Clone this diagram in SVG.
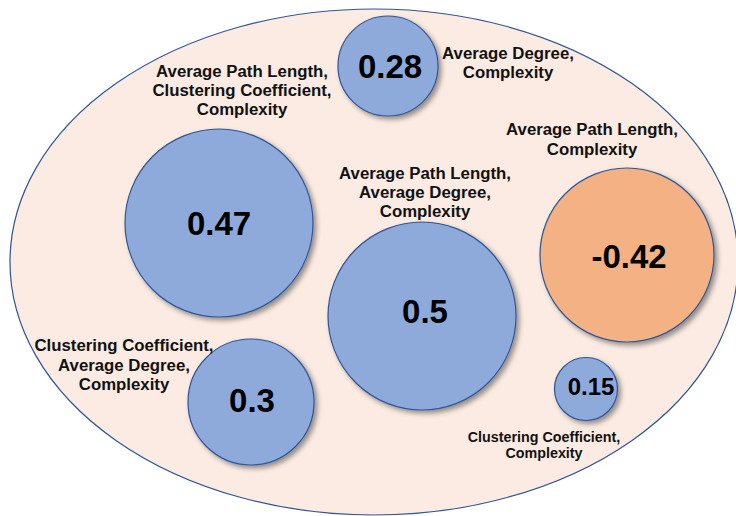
<svg xmlns="http://www.w3.org/2000/svg" width="736" height="516" viewBox="0 0 736 516">
  <defs>
    <filter id="shadow" x="-20%" y="-20%" width="150%" height="150%">
      <feDropShadow dx="3" dy="3" stdDeviation="2.5" flood-color="#000000" flood-opacity="0.4"/>
    </filter>
  </defs>
  <style>
    .bg { fill: #fbebe2; stroke: #2f5597; stroke-width: 1.2; }
    .blue { fill: #8eaadb; stroke: #2f5597; stroke-width: 1.2; filter: url(#shadow); }
    .orange { fill: #f4b183; stroke: #2f5597; stroke-width: 1.2; filter: url(#shadow); }
    .num { font-family: "Liberation Sans", Arial, sans-serif; font-weight: bold; font-size: 33px; fill: #000; text-anchor: middle; }
    .small-num { font-size: 24px; }
    .lbl { font-family: "Liberation Sans", Arial, sans-serif; font-weight: bold; font-size: 16.8px; fill: #111; text-anchor: middle; }
    .lbl-s { font-size: 14.3px; }
  </style>
  <rect width="736" height="516" fill="#ffffff"/>
  <ellipse id="background" class="bg" cx="374" cy="262" rx="364" ry="253"/>

  <g id="node-028">
    <circle class="blue" cx="388" cy="66" r="50"/>
    <text class="num" x="390" y="78">0.28</text>
    <text class="lbl" x="508" y="59">Average Degree,</text>
    <text class="lbl" x="508" y="78">Complexity</text>
  </g>

  <g id="node-047">
    <circle class="blue" cx="219" cy="223" r="94"/>
    <text class="num" x="219" y="235">0.47</text>
    <text class="lbl" x="242" y="76.5">Average Path Length,</text>
    <text class="lbl" x="242" y="95.5">Clustering Coefficient,</text>
    <text class="lbl" x="242" y="114.5">Complexity</text>
  </g>

  <g id="node-05">
    <circle class="blue" cx="422" cy="316" r="94"/>
    <text class="num" x="425" y="323">0.5</text>
    <text class="lbl" x="425" y="178.5">Average Path Length,</text>
    <text class="lbl" x="425" y="197.5">Average Degree,</text>
    <text class="lbl" x="425" y="216.5">Complexity</text>
  </g>

  <g id="node-m042">
    <circle class="orange" cx="627" cy="255" r="87"/>
    <text class="num" x="629" y="268">-0.42</text>
    <text class="lbl" x="592" y="135">Average Path Length,</text>
    <text class="lbl" x="592" y="155">Complexity</text>
  </g>

  <g id="node-03">
    <circle class="blue" cx="251" cy="402" r="63"/>
    <text class="num" x="252" y="412">0.3</text>
    <text class="lbl" x="124" y="351">Clustering Coefficient,</text>
    <text class="lbl" x="124" y="370.5">Average Degree,</text>
    <text class="lbl" x="124" y="390">Complexity</text>
  </g>

  <g id="node-015">
    <circle class="blue" cx="586" cy="389" r="31.5"/>
    <text class="num small-num" x="591" y="395">0.15</text>
    <text class="lbl lbl-s" x="544" y="442">Clustering Coefficient,</text>
    <text class="lbl lbl-s" x="544" y="458">Complexity</text>
  </g>

  <g id="connectors"></g>
</svg>
